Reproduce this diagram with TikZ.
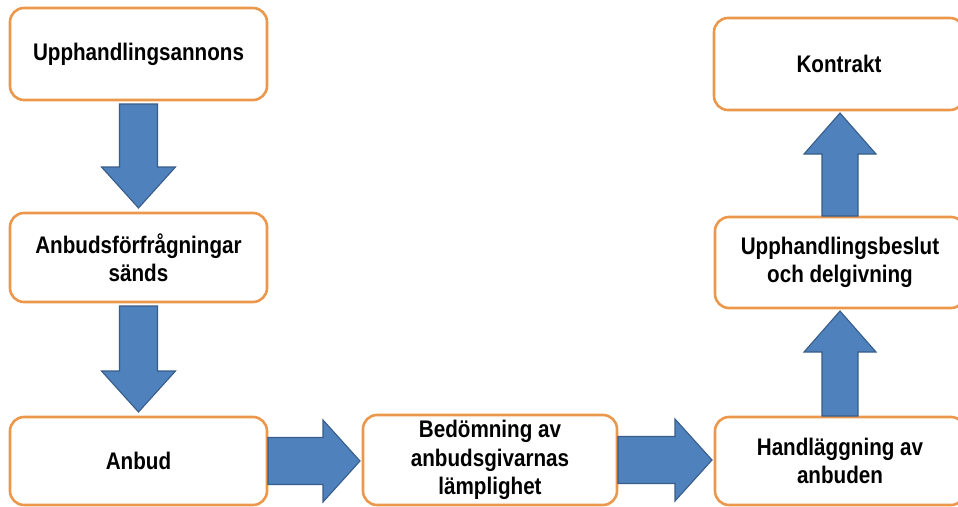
\documentclass[tikz,border=0pt]{standalone}
\usepackage{fontspec}
\setmainfont{Liberation Sans}[FakeStretch=0.86]
\usetikzlibrary{calc}
\definecolor{boxline}{RGB}{236,152,76}
\definecolor{arrfill}{RGB}{79,129,189}
\definecolor{arrline}{RGB}{56,93,138}
\tikzset{
  procbox/.style={draw=boxline, line width=2.6pt, rounded corners=14pt, fill=white,
    align=center, font=\fontsize{24}{28.5}\selectfont\bfseries, inner sep=0pt, outer sep=0pt},
  blockarrow/.style={fill=arrfill, draw=arrline, line width=1.1pt, line join=miter}
}
% vertical arrow downward: shaft half 19, head half 37, head length 41
\newcommand\ArrDown[2]{\path[blockarrow] let \p1=(#1.south), \p2=(#2.north) in
  (\x1-19pt,\y1-4pt) -- (\x1+19pt,\y1-4pt) -- (\x1+19pt,\y2+46pt) -- (\x1+37pt,\y2+46pt)
  -- (\x1,\y2+5pt) -- (\x1-37pt,\y2+46pt) -- (\x1-19pt,\y2+46pt) -- cycle;}
% vertical arrow upward
\newcommand\ArrUp[2]{\path[blockarrow] let \p1=(#1.north), \p2=(#2.south) in
  (\x1-18pt,\y1+1pt) -- (\x1+18pt,\y1+1pt) -- (\x1+18pt,\y2-44pt) -- (\x1+36pt,\y2-44pt)
  -- (\x1,\y2-3pt) -- (\x1-36pt,\y2-44pt) -- (\x1-18pt,\y2-44pt) -- cycle;}
% horizontal arrow to the right
\newcommand\ArrRight[2]{\path[blockarrow] let \p1=(#1.east), \p2=(#2.west) in
  (\x1+1pt,\y1+23.5pt) -- (\x1+1pt,\y1-23.5pt) -- (\x2-40pt,\y1-23.5pt) -- (\x2-40pt,\y1-41pt)
  -- (\x2-3pt,\y1) -- (\x2-40pt,\y1+41pt) -- (\x2-40pt,\y1+23.5pt) -- cycle;}
\begin{document}
\begin{tikzpicture}[x=1pt,y=1pt]
\clip (0,0) rectangle (958,-506);
\fill[white] (0,0) rectangle (958,-506);
\node[procbox, minimum width=257pt, minimum height=92pt] (b1) at (138.5,-54) {Upphandlingsannons};
\node[procbox, minimum width=257pt, minimum height=89pt] (b2) at (138.5,-257.5) {Anbudsförfrågningar\\sänds};
\node[procbox, minimum width=257pt, minimum height=88pt] (b3) at (138.5,-461) {Anbud};
\node[procbox, minimum width=254pt, minimum height=90pt] (b4) at (490,-460) {Bedömning av\\anbudsgivarnas\\lämplighet};
\node[procbox, minimum width=250pt, minimum height=88pt] (b5) at (840,-461) {Handläggning av\\anbuden};
\node[procbox, minimum width=250pt, minimum height=91pt] (b6) at (840,-262.5) {Upphandlingsbeslut\\och delgivning};
\node[procbox, minimum width=250pt, minimum height=92pt] (b7) at (839,-64) {Kontrakt};
\ArrDown{b1}{b2}
\ArrDown{b2}{b3}
\ArrRight{b3}{b4}
\ArrRight{b4}{b5}
\ArrUp{b5}{b6}
\ArrUp{b6}{b7}
\end{tikzpicture}
\end{document}
